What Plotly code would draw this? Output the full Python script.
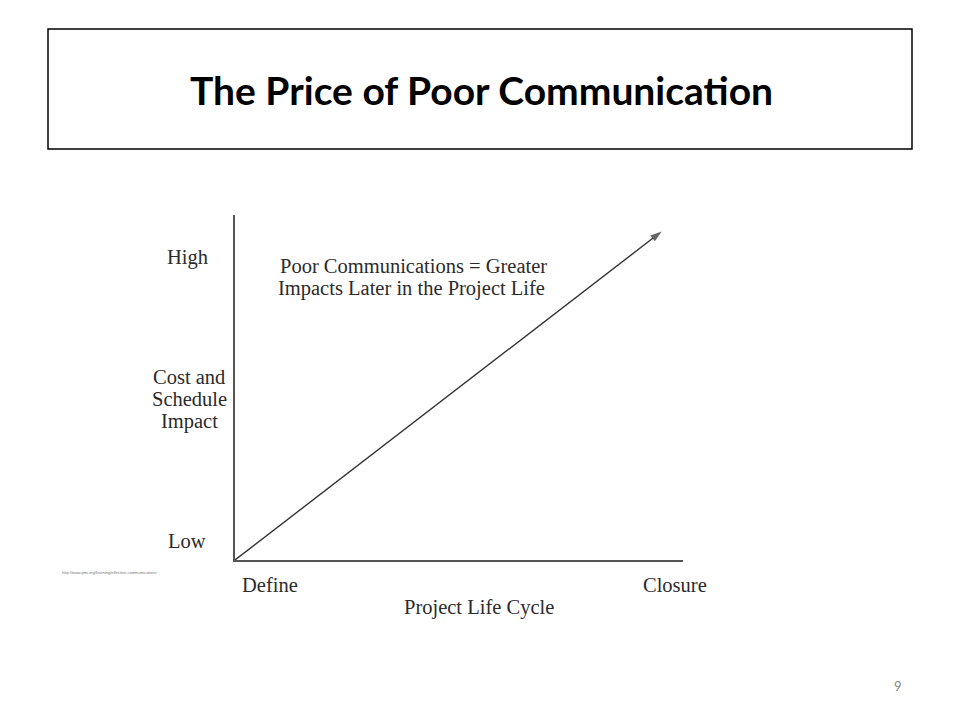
import plotly.graph_objects as go

# Data
life_cycle = [0.0, 1.0]          # Define -> Closure (relative position)
impact = [0.0, 1.0]              # Low -> High (relative cost/schedule impact)
x_labels = ["Define", "Closure"]
y_labels = ["Low", "High"]
title_text = "The Price of Poor Communica<span style='color:#000'>t</span>ion"
y_axis_title_lines = ["Cost and", "Schedule", "Impact"]
x_axis_title = "Project Life Cycle"
note_lines = ["Poor Communications = Greater", "Impacts Later in the Project Life"]
source_text = "http://www.pmi.org/learning/effective-communications"
page_number = "9"

W, H = 960, 720
OFF = 8  # page body margin
def px(x):
    return (x - OFF) / W
def py(y):
    return 1 - (y - OFF) / H

serif = "Liberation Serif, Times New Roman, serif"
txt_col = "#2b2b2b"
FS = 20.5

fig = go.Figure()
fig.add_trace(go.Scatter(
    x=life_cycle, y=impact, mode="lines+markers",
    line=dict(color="#333", width=1.4),
    marker=dict(symbol="arrow", angleref="previous", size=[0, 12], color="#222",
                line=dict(width=0)),
    hoverinfo="skip", showlegend=False,
))

fig.update_xaxes(range=[0, 1.05], domain=[px(235), px(683)], showline=True,
                 linecolor="#555", linewidth=1.5, showgrid=False, zeroline=False,
                 showticklabels=False, ticks="")
fig.update_yaxes(range=[0, 1.05], domain=[py(560), py(215)], showline=True,
                 linecolor="#555", linewidth=1.5, showgrid=False, zeroline=False,
                 showticklabels=False, ticks="")

ann = []
def add(text, x, y, size, xanchor="center", color=txt_col, family=serif):
    ann.append(dict(text=text, x=px(x), y=py(y), xref="paper", yref="paper",
                    xanchor=xanchor, yanchor="middle", showarrow=False,
                    font=dict(family=family, size=size, color=color),
                    align="center" if xanchor == "center" else "left"))

add(f"<b>{title_text}</b>", 481, 90, 39, family="Lato, Carlito, Calibri, sans-serif", color="#000")
add(y_labels[1], 187, 257, FS)
for i, line in enumerate(y_axis_title_lines):
    add(line, 189, 377 + 22 * i, FS)
add(y_labels[0], 187, 541, FS)
add(x_labels[0], 270, 585, FS)
add(x_labels[1], 675, 585, FS)
add(x_axis_title, 479, 607, FS)
for i, line in enumerate(note_lines):
    add(line, 278 - 2 * i, 266 + 23 * i, FS, xanchor="left")
add(source_text, 60, 572, 4, xanchor="left", color="#777", family="Liberation Sans, sans-serif")
add(page_number, 898, 686, 13, color="#8a8a8a", family="Lato, sans-serif")

fig.update_layout(
    width=W, height=H, margin=dict(l=0, r=0, t=0, b=0),
    paper_bgcolor="white", plot_bgcolor="white",
    annotations=ann,
    shapes=[dict(type="rect", xref="paper", yref="paper",
                 x0=px(48), x1=px(912), y0=py(149), y1=py(29),
                 line=dict(color="#000", width=1.5), fillcolor="rgba(0,0,0,0)")],
)

fig.write_html("out.html")
